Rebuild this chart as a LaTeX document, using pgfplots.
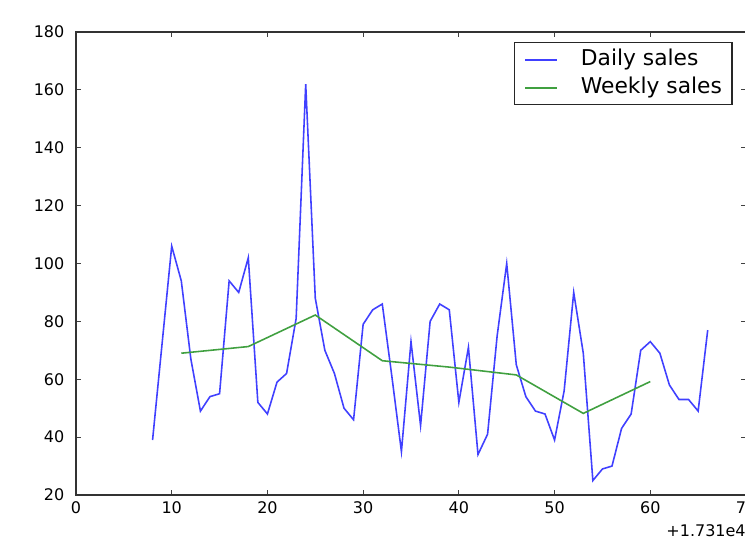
\documentclass[border=0pt]{standalone}
\usepackage{pgfplots}
\pgfplotsset{compat=1.18}
\usepackage{fontspec}
\setmainfont{DejaVu Sans}
\definecolor{dblue}{RGB}{64,64,255}
\definecolor{dgreen}{RGB}{64,160,64}
\begin{document}
\begin{tikzpicture}
\begin{axis}[name=ax, scale only axis, width=13.4cm, height=9.26cm,
  xmin=0, xmax=70, ymin=20, ymax=180,
  xtick={0,10,...,70}, ytick={20,40,...,180},
  tick align=inside, major tick length=0.1cm,
  tick style={black!75, line width=0.5pt},
  axis line style={black!80, line width=0.8pt},
  ticklabel style={font=\fontsize{9.1}{11}\selectfont},
  /pgf/number format/assume math mode=true,
  yticklabel style={xshift=-0.11cm},
  legend style={at={(1,1)}, anchor=north east, xshift=-0.27cm, yshift=-0.206cm,
    draw=black!85, line width=0.6pt, font=\fontsize{12.4}{14}\selectfont,
    inner xsep=0.2cm, inner ysep=0.15cm, row sep=0.18cm,
    nodes={inner sep=0pt, text height=0.3cm, text depth=0.08cm},
    cells={anchor=west},
    /tikz/every odd column/.append style={column sep=0.47cm}},
  legend image code/.code={\draw[#1, line width=0.9pt] (0cm,0cm) -- (0.63cm,0cm);},
]
\addplot[dblue, line width=0.9pt] coordinates {
(8,39) (9,72.5) (10,106) (11,94) (12,67) (13,49) (14,54) (15,55) (16,94) (17,90)
(18,102) (19,52) (20,48) (21,59) (22,62) (23,81) (24,162) (25,88) (26,70) (27,62)
(28,50) (29,46) (30,79) (31,84) (32,86) (33,61) (34,35) (35,73) (36,44) (37,80)
(38,86) (39,84) (40,52) (41,71) (42,34) (43,41) (44,75) (45,100) (46,65) (47,54)
(48,49) (49,48) (50,39) (51,56) (52,90) (53,69) (54,25) (55,29) (56,30) (57,43)
(58,48) (59,70) (60,73) (61,69) (62,58) (63,53) (64,53) (65,49) (66,77)
};
\addlegendentry{Daily sales}
\addplot[dgreen, line width=0.9pt] coordinates {
(11,69) (18,71.3) (25,82.2) (32,66.4) (39,64.2) (46,61.5) (53,48.2) (60,59.2)
};
\addlegendentry{Weekly sales}
\end{axis}
\node[anchor=base east, font=\fontsize{9.1}{11}\selectfont, inner sep=0pt] at ([yshift=-0.82cm]ax.south east) {+1.731e4};
\pgfresetboundingbox
\path[use as bounding box] ([shift={(-1.52cm,-0.92cm)}]ax.south west) rectangle ([shift={(-0.02cm,0.64cm)}]ax.north east);
\end{tikzpicture}
\end{document}
